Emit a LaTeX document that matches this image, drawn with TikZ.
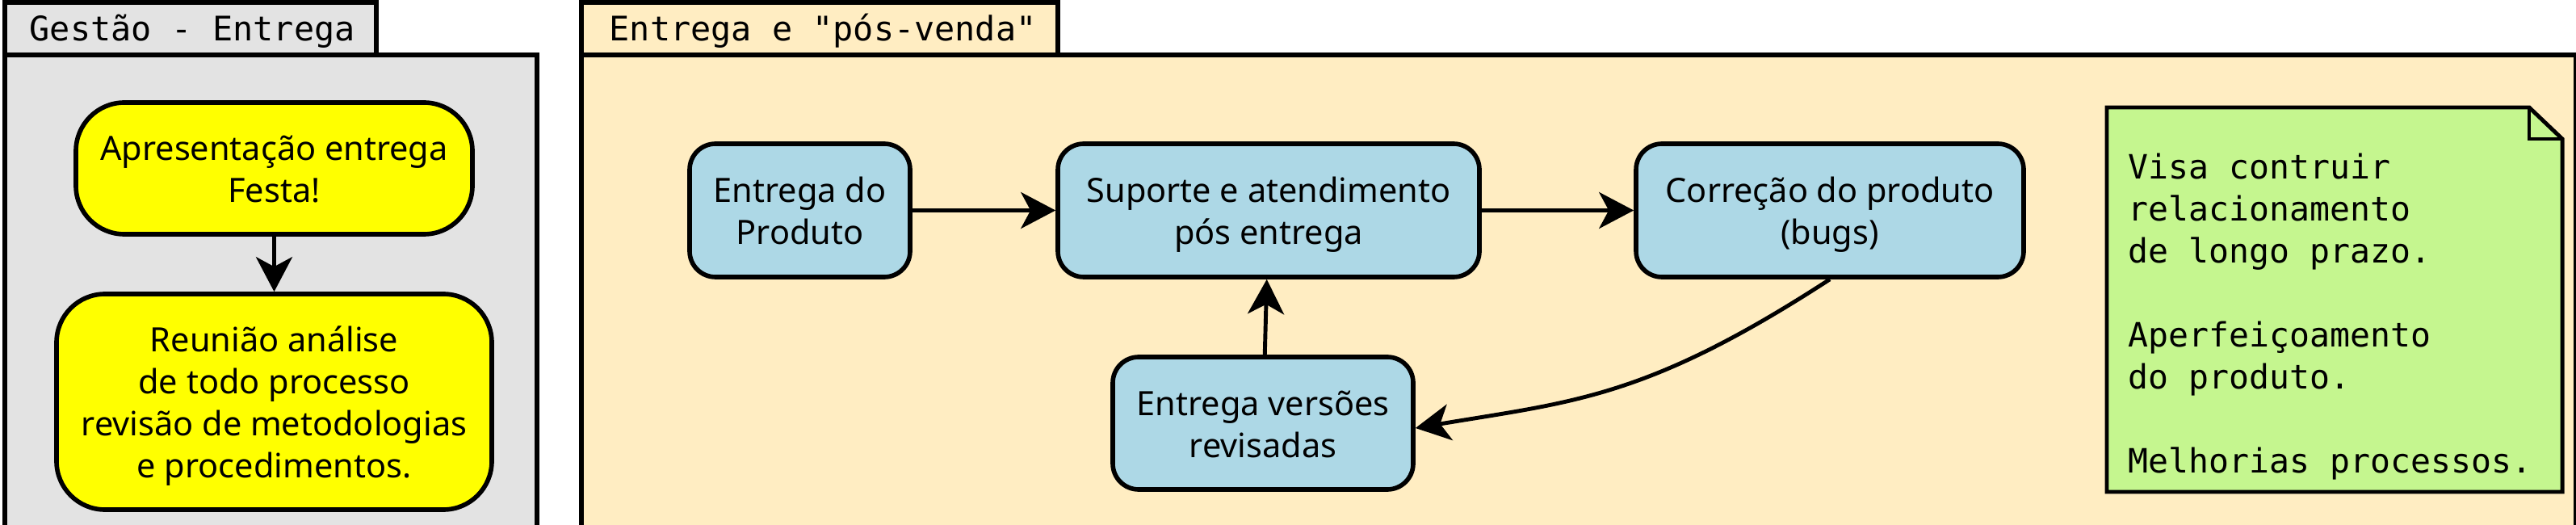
\documentclass[tikz,border=0pt]{standalone}
\usepackage{fontspec}
\setmainfont{Noto Sans}
\setmonofont{DejaVu Sans Mono}
\usetikzlibrary{arrows.meta}

\definecolor{cinza}{HTML}{E3E3E3}
\definecolor{bege}{HTML}{FFEDC2}
\definecolor{amarelo}{HTML}{FFFF00}
\definecolor{azulclaro}{HTML}{ADD8E6}
\definecolor{verde}{HTML}{C5F68F}

% linhas com altura fixa (topo e fundo do texto)
\newcommand{\alto}{\rule{0pt}{1.07em}}
\newcommand{\baixo}{\rule[-0.29em]{0pt}{0pt}}

\begin{document}
\begin{tikzpicture}[
  font=\fontsize{11.8}{14.8}\selectfont,
  raia/.style={draw, line width=1.7pt},
  titulo/.style={anchor=base west, inner sep=0pt, font=\ttfamily\fontsize{11.9}{14}\selectfont},
  caixa/.style={draw, line width=1.6pt, align=center, inner sep=0pt},
  acao/.style={caixa, fill=amarelo, rounded corners=0.6cm},
  etapa/.style={caixa, fill=azulclaro, rounded corners=0.32cm},
  seta/.style={line width=1.4pt, -{Stealth[length=4.3mm,width=4.5mm,inset=1.2mm]}}
]
\useasboundingbox (0,0) rectangle (31.9,-6.5);
\clip (0,0) rectangle (31.9,-6.5);

% raias
\draw[raia, fill=cinza] (0.06,-0.68) rectangle (6.65,-7);
\draw[raia, fill=cinza] (0.06,-0.03) rectangle (4.66,-0.68);
\draw[raia, fill=bege] (7.2,-0.68) rectangle (31.9,-7);
\draw[raia, fill=bege] (7.2,-0.03) rectangle (13.1,-0.68);

\node[titulo] (gestao) at (0.36,-0.51) {Gestão - Entrega};
\node[titulo] (posvenda) at (7.54,-0.51) {Entrega e "pós-venda"};

% gestao
\node[acao, minimum width=4.91cm, minimum height=1.63cm] (apresentacao) at (3.395,-2.085) {\alto Apresentação entrega\\Festa!\baixo};
\node[acao, minimum width=5.39cm, minimum height=2.67cm] (reuniao) at (3.395,-4.975) {\alto Reunião análise\\de todo processo\\revisão de metodologias\\e procedimentos.\baixo};

% pos-venda
\node[etapa, minimum width=2.73cm, minimum height=1.65cm] (entrega) at (9.905,-2.605) {\alto Entrega do\\Produto\baixo};
\node[etapa, minimum width=5.22cm, minimum height=1.65cm] (suporte) at (15.71,-2.605) {\alto Suporte e atendimento\\pós entrega\baixo};
\node[etapa, minimum width=4.80cm, minimum height=1.65cm] (correcao) at (22.66,-2.605) {\alto Correção do produto\\(bugs)\baixo};
\node[etapa, minimum width=3.72cm, minimum height=1.64cm] (versoes) at (15.64,-5.24) {\alto Entrega versões\\revisadas\baixo};

% nota
\draw[fill=verde, line width=1.4pt] (26.09,-1.33) -- (31.32,-1.33) -- (31.73,-1.72) -- (31.73,-6.09) -- (26.09,-6.09) -- cycle;
\draw[line width=1pt] (31.32,-1.33) -- (31.32,-1.72) -- (31.73,-1.72);
\node[anchor=north west, inner sep=0pt, align=left, font=\ttfamily\fontsize{11.8}{14.8}\selectfont] (nota) at (26.35,-1.89) {Visa contruir\\relacionamento\\de longo prazo.\\ \\Aperfeiçoamento\\do produto.\\ \\Melhorias processos.};

\draw[seta] (apresentacao) -- (reuniao);
\draw[seta] (entrega) -- (suporte);
\draw[seta] (suporte) -- (correcao);
\draw[seta] (versoes) -- (suporte);
\draw[seta] (correcao.south) to[out=-147, in=9.5, out distance=2.7cm, in distance=2cm] ([yshift=-0.06cm]versoes.east);
\end{tikzpicture}
\end{document}
